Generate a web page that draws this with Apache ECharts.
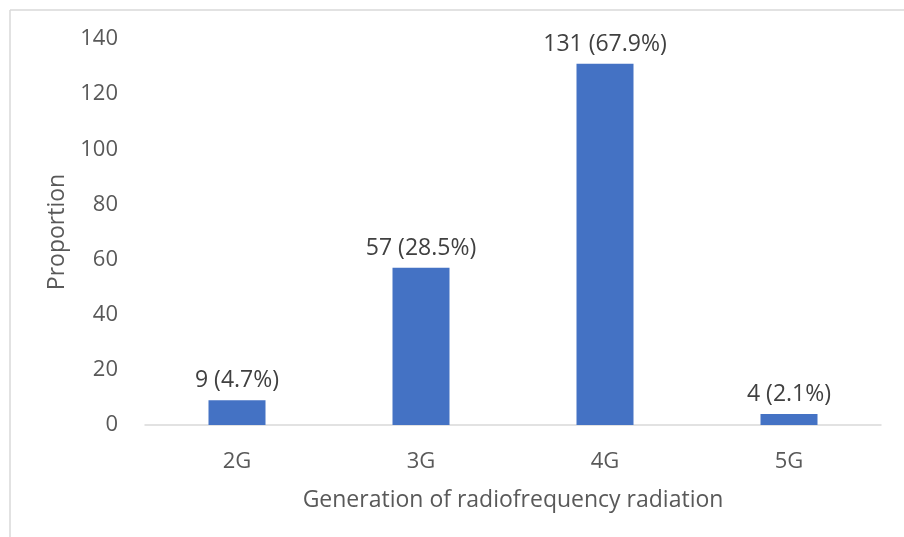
<!DOCTYPE html>
<html>
<head>
<meta charset="utf-8">
<script src="https://cdn.jsdelivr.net/npm/echarts@6/dist/echarts.min.js"></script>
<style>
  html, body { margin: 0; padding: 0; background: #fff; }
  #chart { width: 904px; height: 537px; }
</style>
</head>
<body>
<div id="chart"></div>
<script>
var categories = ['2G', '3G', '4G', '5G'];
var counts = [9, 57, 131, 4];
var percents = ['4.7%', '28.5%', '67.9%', '2.1%'];
var yTicks = [0, 20, 40, 60, 80, 100, 120, 140];

var font = 'Open Sans';
var chart = echarts.init(document.getElementById('chart'));

var option = {
    backgroundColor: '#fff',
    animation: false,
    // thin frame, top and left edges only visible in the picture
    graphic: [
        { type: 'line', shape: { x1: 10, y1: 10, x2: 904, y2: 10 }, style: { stroke: '#d9d9d9', lineWidth: 1.5 } },
        { type: 'line', shape: { x1: 10, y1: 10, x2: 10, y2: 537 }, style: { stroke: '#d9d9d9', lineWidth: 1.5 } }
    ],
    grid: { left: 145, right: 23, top: 39, bottom: 112 },
    xAxis: {
        type: 'category',
        data: categories,
        name: 'Generation of radiofrequency radiation',
        nameLocation: 'middle',
        nameGap: 64,
        nameTextStyle: { fontFamily: font, fontSize: 23, color: '#595959' },
        axisLine: { lineStyle: { color: '#d9d9d9', width: 1.5 } },
        axisTick: { show: false },
        axisLabel: { fontFamily: font, fontSize: 22, color: '#595959', margin: 26 }
    },
    yAxis: {
        type: 'value',
        min: yTicks[0],
        max: yTicks[yTicks.length - 1],
        interval: 20,
        name: 'Proportion',
        nameLocation: 'middle',
        nameGap: 75,
        nameTextStyle: { fontFamily: font, fontSize: 23, color: '#595959' },
        axisLine: { show: false },
        axisTick: { show: false },
        splitLine: { show: false },
        axisLabel: { fontFamily: font, fontSize: 22, color: '#595959', margin: 27 }
    },
    series: [{
        type: 'bar',
        data: counts,
        barWidth: 57,
        itemStyle: { color: '#4472c4' },
        label: {
            show: true,
            position: 'top',
            distance: 8,
            fontFamily: font,
            fontSize: 23,
            color: '#404040',
            formatter: function (p) {
                return p.value + ' (' + percents[p.dataIndex] + ')';
            }
        }
    }]
};

chart.setOption(option);
</script>
</body>
</html>
